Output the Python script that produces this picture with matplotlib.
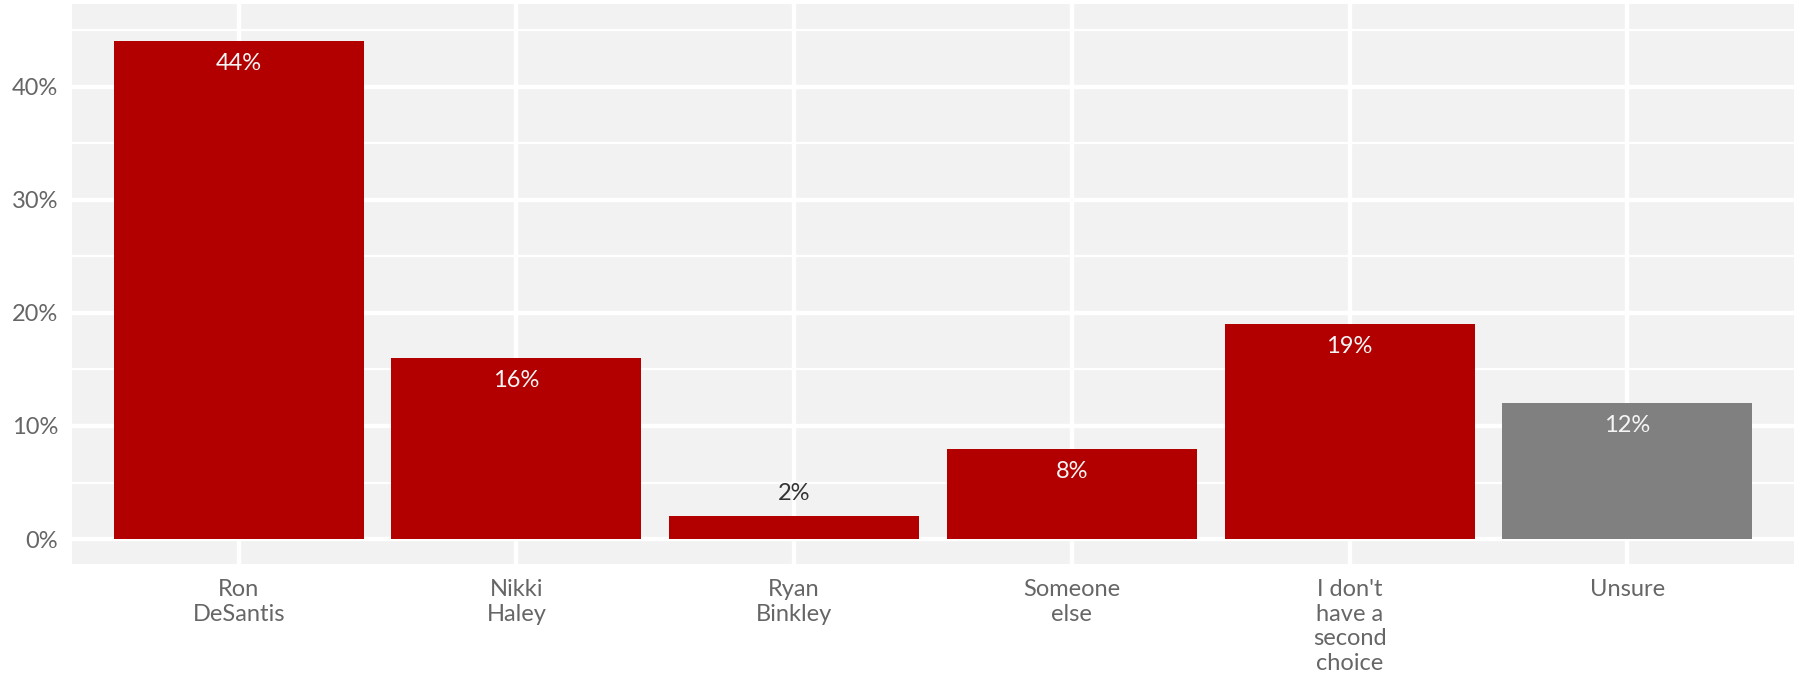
import numpy as np
import matplotlib.pyplot as plt
from matplotlib.ticker import MultipleLocator, FuncFormatter

plt.rcParams['font.family'] = ['Lato', 'DejaVu Sans']

# Data
categories = ['Ron\nDeSantis', 'Nikki\nHaley', 'Ryan\nBinkley', 'Someone\nelse',
              "I don't\nhave a\nsecond\nchoice", 'Unsure']
values = [44, 16, 2, 8, 19, 12]
colors = ['#B20000', '#B20000', '#B20000', '#B20000', '#B20000', '#808080']

fig = plt.figure(figsize=(17.94, 6.77), dpi=100)
ax = fig.add_axes([72 / 1794, 113 / 677, 1722 / 1794, 560 / 677])

x = np.arange(len(categories))
ax.bar(x, values, width=0.9, color=colors, zorder=2)

# value labels: inside the bar, or above it when the bar is short
for xi, v in zip(x, values):
    if v >= 5:
        ax.text(xi, v - 2, f'{v}%', ha='center', va='center',
                color='#F5F5F5', fontsize=17, zorder=3)
    else:
        ax.text(xi, v + 2, f'{v}%', ha='center', va='center',
                color='#333333', fontsize=17, zorder=3)

ax.set_xlim(-0.6, len(categories) - 0.4)
ax.set_ylim(-2.2, 47.3)
ax.set_xticks(x)
ax.set_xticklabels(categories, fontsize=17, color='#666666', linespacing=1.21)
ax.yaxis.set_major_locator(MultipleLocator(10))
ax.yaxis.set_minor_locator(MultipleLocator(5))
ax.yaxis.set_major_formatter(FuncFormatter(lambda v, p: f'{v:.0f}%'))
ax.tick_params(axis='y', labelsize=17, labelcolor='#666666', length=0, pad=10)
ax.tick_params(axis='x', length=0, pad=11)
ax.tick_params(which='minor', length=0)

# ggplot-ish panel
ax.set_facecolor('#F2F2F2')
ax.grid(which='major', color='white', linewidth=3.2, zorder=0)
ax.grid(which='minor', axis='y', color='white', linewidth=1.6, zorder=0)
ax.set_axisbelow(True)
for s in ax.spines.values():
    s.set_visible(False)

plt.savefig('out.png', dpi=100)
